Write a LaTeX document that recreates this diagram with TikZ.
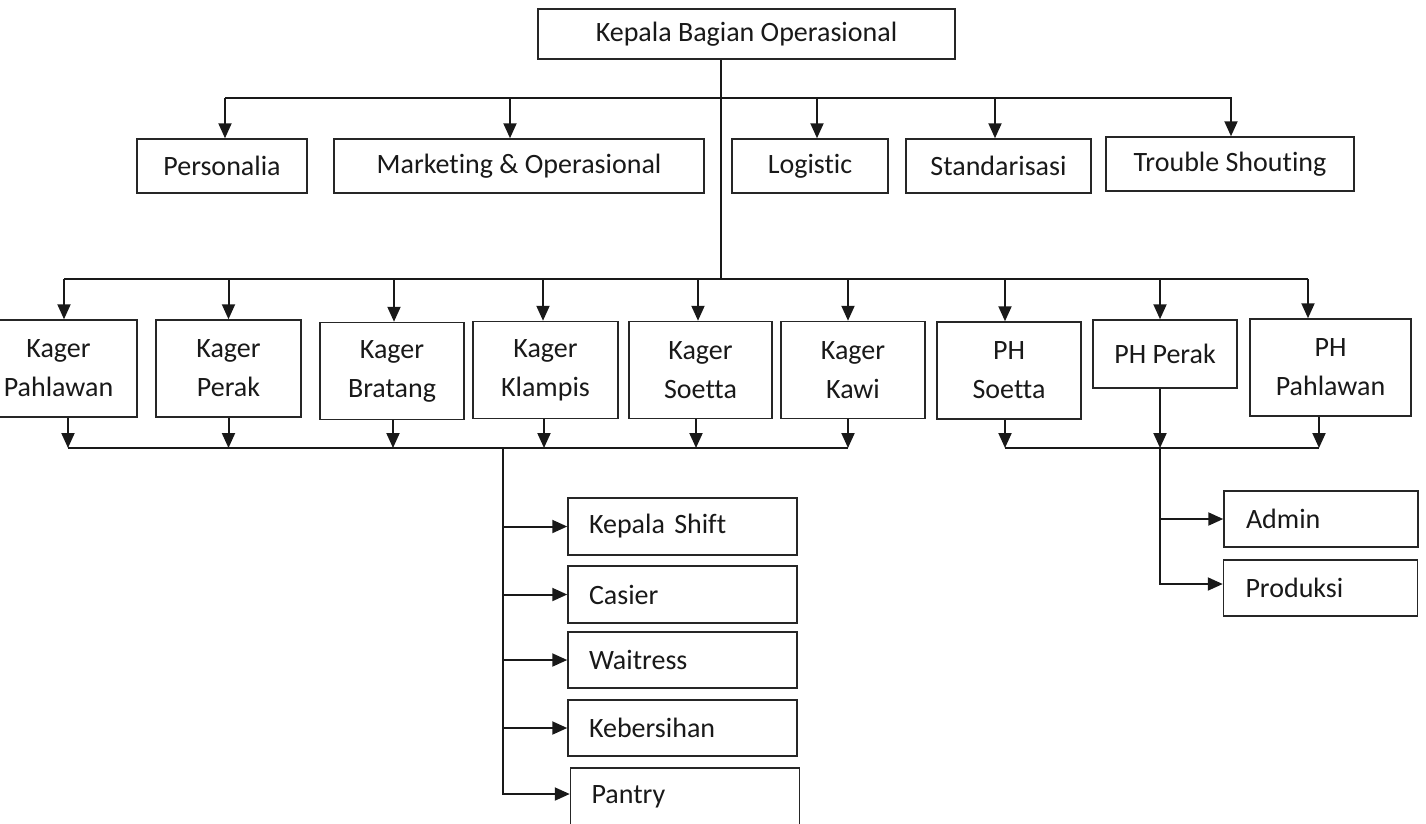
\documentclass[tikz,border=0pt]{standalone}
\usepackage{fontspec}
\setmainfont{Carlito}[RawFeature={-liga;-clig;-dlig}]
\usetikzlibrary{arrows.meta}
\begin{document}
\begin{tikzpicture}[x=1pt,y=-1pt,
  box/.style={draw=black!85, line width=1.5pt, inner sep=0pt, align=center, font=\fontsize{28}{39}\selectfont, text=black!90},
  tbox/.style={box, minimum height=54pt},
  kbox/.style={box, minimum width=145pt, minimum height=97pt},
  lbox/.style={box, align=left, inner xsep=21pt, text width=187pt, minimum height=57pt},
  rbox/.style={box, align=left, inner xsep=22pt, text width=150pt, minimum height=56pt},
  ln/.style={line width=2pt, draw=black!90},
  arr/.style={ln, -{Triangle[length=15pt,width=13pt]}},
]
\useasboundingbox (0,0) rectangle (1426,823);
\fill[white] (0,0) rectangle (1426,823);

% top
\node[box, minimum width=417pt, minimum height=50pt] (top) at (746.5,34) {Kepala Bagian Operasional};
\node[tbox, minimum width=170pt] (pers) at (222,166) {Personalia};
\node[tbox, minimum width=370pt] (mark) at (519,166) {Marketing \& Operasional};
\node[tbox, minimum width=156pt] (logi) at (810,166) {Logistic};
\node[tbox, minimum width=185pt] (stan) at (998.5,166) {Standarisasi};
\node[tbox, minimum width=248pt] (trou) at (1230,164) {Trouble Shouting};

% row 2
\node[kbox, minimum width=157pt] (k1) at (58.5,368.5) {Kager\\Pahlawan};
\node[kbox] (k2) at (228.5,368.5) {Kager\\Perak};
\node[kbox, minimum width=144pt] (k3) at (392,371) {Kager\\Bratang};
\node[kbox] (k4) at (545.5,370) {Kager\\Klampis};
\node[kbox, minimum width=143pt] (k5) at (700.5,370) {Kager\\Soetta};
\node[kbox, minimum width=144pt] (k6) at (853,370) {Kager\\Kawi};
\node[kbox, minimum width=144pt] (p1) at (1009,370.5) {PH\\Soetta};
\node[box, minimum width=144pt, minimum height=68pt] (p2) at (1165,354) {PH Perak};
\node[kbox, minimum width=161pt] (p3) at (1330.5,367.5) {PH\\Pahlawan};

% sub boxes
\node[lbox] (ks) at (682.5,526.5) {Kepala Shift};
\node[lbox] (cas) at (682.5,594.5) {Casier};
\node[lbox, minimum height=56pt] (wai) at (682.5,660) {Waitress};
\node[lbox, minimum height=56pt] (keb) at (682.5,728) {Kebersihan};
\node[lbox] (pan) at (685,796.5) {Pantry};
\node[rbox] (adm) at (1321,519) {Admin};
\node[rbox] (prod) at (1320.5,588) {Produksi};

% bus coordinates
\coordinate (b1L) at (225,98);
\coordinate (b1R) at (1232,98);
\coordinate (b2L) at (64,279);
\coordinate (b2R) at (1308,279);
\coordinate (j2) at (721,279);
\coordinate (b3L) at (68,448);
\coordinate (b3R) at (848,448);
\coordinate (b4L) at (1005,448);
\coordinate (b4R) at (1319,448);
\coordinate (v1) at (503,448);
\coordinate (v2) at (1160,448);

% main trunk and top bus
\draw[ln] ([xshift=-25.5pt]top.south) -- (j2);
\draw[ln] (b1L) -- (b1R);
\draw[arr] ([xshift=3pt]pers.north |- b1L) -- ([xshift=3pt]pers.north);
\draw[arr] ([xshift=-9pt]mark.north |- b1L) -- ([xshift=-9pt]mark.north);
\draw[arr] ([xshift=7pt]logi.north |- b1L) -- ([xshift=7pt]logi.north);
\draw[arr] ([xshift=-3.5pt]stan.north |- b1L) -- ([xshift=-3.5pt]stan.north);
\draw[arr] ([xshift=1pt]trou.north |- b1L) -- ([xshift=1pt]trou.north);

% second bus
\draw[ln] (b2L) -- (b2R);
\draw[arr] ([xshift=5.5pt]k1.north |- b2L) -- ([xshift=5.5pt]k1.north);
\draw[arr] (k2.north |- b2L) -- (k2.north);
\draw[arr] ([xshift=2pt]k3.north |- b2L) -- ([xshift=2pt]k3.north);
\draw[arr] ([xshift=-2.5pt]k4.north |- b2L) -- ([xshift=-2.5pt]k4.north);
\draw[arr] ([xshift=-2.5pt]k5.north |- b2L) -- ([xshift=-2.5pt]k5.north);
\draw[arr] ([xshift=-5pt]k6.north |- b2L) -- ([xshift=-5pt]k6.north);
\draw[arr] ([xshift=-4pt]p1.north |- b2L) -- ([xshift=-4pt]p1.north);
\draw[arr] ([xshift=-5pt]p2.north |- b2L) -- ([xshift=-5pt]p2.north);
\draw[arr] ([xshift=-22.5pt]p3.north |- b2L) -- ([xshift=-22.5pt]p3.north);

% lower buses
\draw[ln] (b3L) -- (b3R);
\draw[ln] (b4L) -- (b4R);
\draw[arr] ([xshift=9.5pt]k1.south) -- ([xshift=9.5pt]k1.south |- b3L);
\draw[arr] (k2.south) -- (k2.south |- b3L);
\draw[arr] ([xshift=1pt]k3.south) -- ([xshift=1pt]k3.south |- b3L);
\draw[arr] ([xshift=-1.5pt]k4.south) -- ([xshift=-1.5pt]k4.south |- b3L);
\draw[arr] ([xshift=-4.5pt]k5.south) -- ([xshift=-4.5pt]k5.south |- b3L);
\draw[arr] ([xshift=-5pt]k6.south) -- ([xshift=-5pt]k6.south |- b3L);
\draw[arr] ([xshift=-4pt]p1.south) -- ([xshift=-4pt]p1.south |- b4L);
\draw[arr] ([xshift=-5pt]p2.south) -- ([xshift=-5pt]p2.south |- b4L);
\draw[arr] ([xshift=-11.5pt]p3.south) -- ([xshift=-11.5pt]p3.south |- b4L);

% sub branches left
\draw[arr] (v1) |- ([yshift=2.5pt]pan.west);
\draw[arr] (v1 |- ks.west) -- (ks.west);
\draw[arr] (v1 |- cas.west) -- (cas.west);
\draw[arr] (v1 |- wai.west) -- (wai.west);
\draw[arr] (v1 |- keb.west) -- (keb.west);

% sub branches right
\draw[arr] (v2) |- ([yshift=4pt]prod.west);
\draw[arr] (v2 |- adm.west) -- (adm.west);
\end{tikzpicture}
\end{document}
